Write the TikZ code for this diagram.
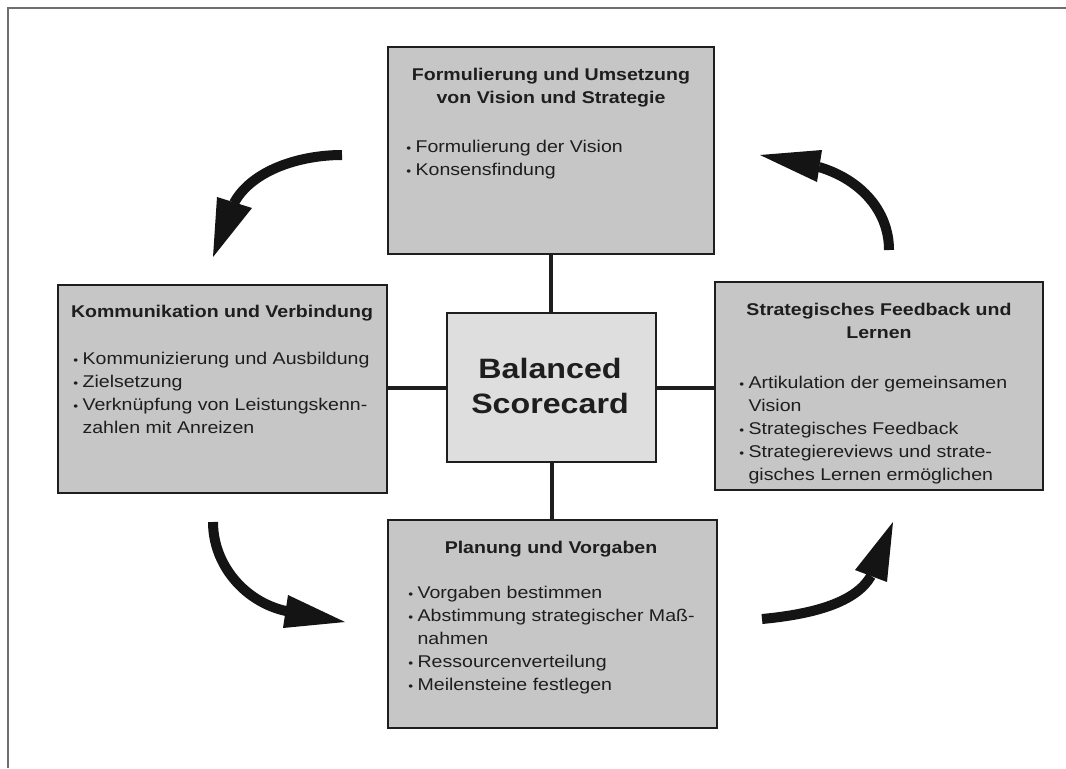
\documentclass[tikz,border=0pt]{standalone}
\usepackage{fontspec}
\setmainfont[FakeStretch=1.15]{Liberation Sans}
\definecolor{boxgray}{RGB}{198,198,198}
\definecolor{centergray}{RGB}{222,222,222}
\definecolor{ink}{RGB}{30,30,30}
\definecolor{framegray}{RGB}{110,110,110}
\newcommand\bl{\makebox[7pt][l]{\fontsize{9pt}{9pt}\selectfont\textbullet}}
\newcommand\cn{\hspace*{7pt}}
\begin{document}
\begin{tikzpicture}[x=0.75pt,y=-0.75pt,
  box/.style={draw=ink, line width=1.5pt, fill=boxgray, inner sep=0pt, outer sep=0pt},
  centerbox/.style={box, fill=centergray},
  link/.style={draw=ink, line width=3pt},
  shaft/.style={draw=black!92, line width=7.5pt},
  head/.style={fill=black!92},
  frame/.style={draw=framegray, line width=1.5pt},
  title/.style={font=\bfseries\fontsize{12.75pt}{17.25pt}\selectfont, align=center, anchor=base, inner sep=0pt, text=ink},
  list/.style={font=\fontsize{12.75pt}{17.1pt}\selectfont, align=left, anchor=base west, inner sep=0pt, text=ink},
  bsc/.style={font=\bfseries\fontsize{21pt}{26.25pt}\selectfont, align=center, anchor=base, inner sep=0pt, text=ink}
]
\useasboundingbox (0,0) rectangle (1066,768);
\fill[white] (0,0) rectangle (1066,768);
\draw[frame] (8,768) -- (8,8) -- (1066,8);

% boxes
\node[box, minimum width=244.5pt, minimum height=155.25pt] (vis) at (551,150.5) {};
\node[box, minimum width=246.75pt, minimum height=156pt] (kom) at (222.5,389) {};
\node[box, minimum width=246pt, minimum height=156pt] (fb) at (879,386) {};
\node[box, minimum width=246.75pt, minimum height=156pt] (plan) at (552.5,624) {};
\node[centerbox, minimum width=156.75pt, minimum height=111.75pt] (bsc) at (551.5,387.5) {};

% connectors
\draw[link] (vis.south) -- (vis.south |- bsc.north);
\draw[link] (bsc.south) -- (bsc.south |- plan.north);
\draw[link] (bsc.west) -- (bsc.west -| kom.east);
\draw[link] (bsc.east) -- (bsc.east -| fb.west);

% texts (anchor = baseline of the last line)
\node[bsc] (bsct) at (550,413) {Balanced\\Scorecard};

\node[title] (vist) at (551,103) {Formulierung und Umsetzung\\von Vision und Strategie};
\node[list] (visl) at (406,175) {\bl Formulierung der Vision\\\bl Konsensfindung};

\node[title] (komt) at (222,317) {Kommunikation und Verbindung};
\node[list] (koml) at (73,433) {\bl Kommunizierung und Ausbildung\\\bl Zielsetzung\\\bl Verknüpfung von Leistungskenn-\\\cn zahlen mit Anreizen};

\node[title] (fbt) at (879,338) {Strategisches Feedback und\\Lernen};
\node[list] (fbl) at (739,480) {\bl Artikulation der gemeinsamen\\\cn Vision\\\bl Strategisches Feedback\\\bl Strategiereviews und strate-\\\cn gisches Lernen ermöglichen};

\node[title] (plant) at (551,553) {Planung und Vorgaben};
\node[list] (planl) at (408,690) {\bl Vorgaben bestimmen\\\bl Abstimmung strategischer Maß-\\\cn nahmen\\\bl Ressourcenverteilung\\\bl Meilensteine festlegen};

% cycle arrows
\draw[shaft] (342,155) .. controls (300,155) and (252,170) .. (234,203);
\fill[head] (217,197) -- (252,208) -- (213,257) -- cycle;

\draw[shaft] (889,250) .. controls (889,212) and (862,180) .. (819,167);
\fill[head] (822,150) -- (817,182) -- (760,155) -- cycle;

\draw[shaft] (213,522) .. controls (213,565) and (245,602) .. (286,611);
\fill[head] (288,595) -- (283,628) -- (345,622) -- cycle;

\draw[shaft] (762,619) .. controls (815,614) and (856,602) .. (871,576);
\fill[head] (855,570) -- (887,582) -- (893,522) -- cycle;
\end{tikzpicture}
\end{document}
